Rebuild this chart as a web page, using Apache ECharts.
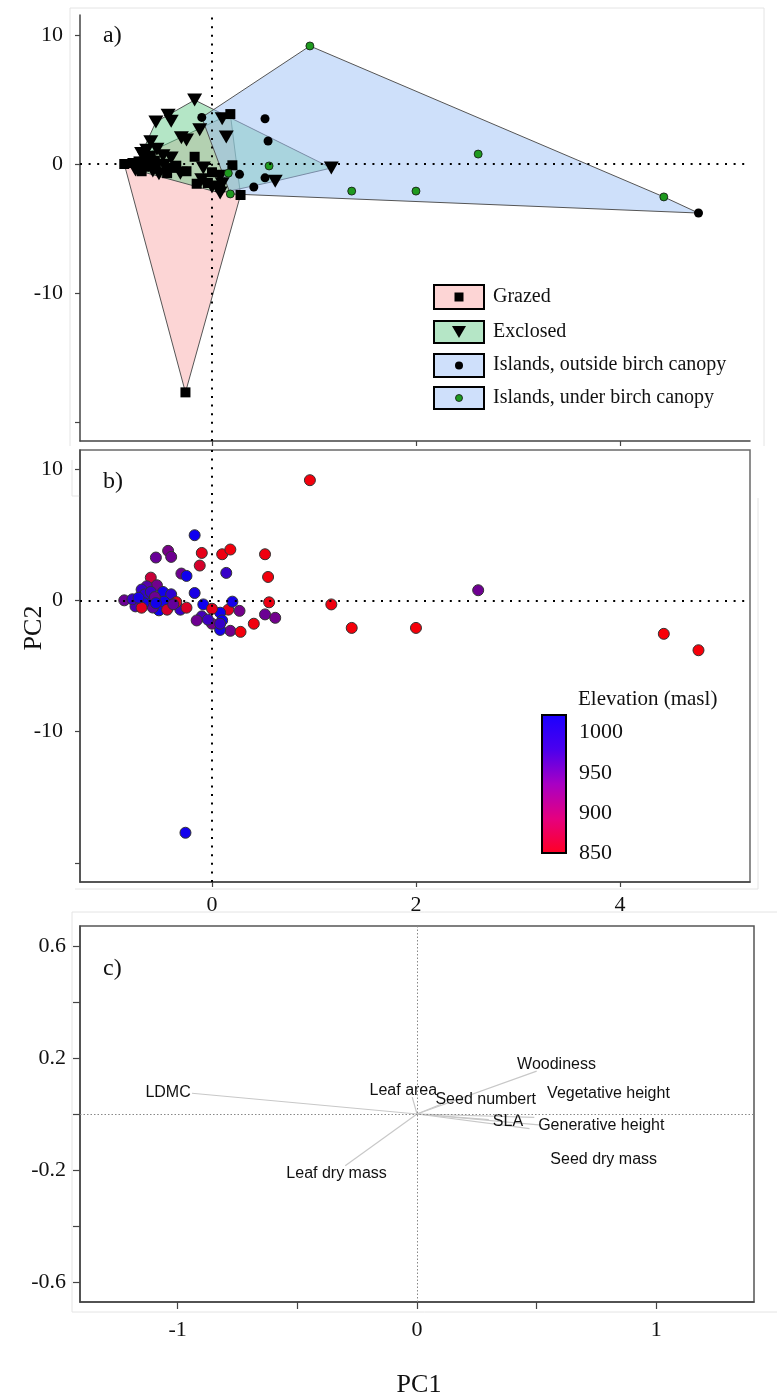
<!DOCTYPE html>
<html>
<head>
<meta charset="utf-8">
<script src="https://cdn.jsdelivr.net/npm/echarts@6/dist/echarts.min.js"></script>
<style>
  html, body { margin: 0; padding: 0; background: #ffffff; }
  #chart { width: 777px; height: 1398px; }
</style>
</head>
<body>
<div id="chart"></div>
<script>
// PCA site scores (PC1, PC2), treatment group and elevation (m a.s.l.) of each plot
const pc1 = [
  0.96, 2.61, 2.00, 4.43, 1.37, 0.56, 0.18, 0.16,
  -0.10, 0.52, 0.55, 0.27, 0.52, 0.41, 4.77,
  -0.17, -0.55, -0.43, -0.40, -0.12, -0.30, -0.25, 0.10, 0.14, 1.17, 0.62, -0.60,
  -0.54, -0.64, -0.69, -0.48, -0.40, -0.62, -0.52, -0.42, -0.31, -0.47, -0.58, -0.66,
  -0.75, -0.085, 0.08, -0.10, 0.00, 0.10, 0.08,
  0.18, -0.17, 0.20, 0.28, -0.86, -0.26, -0.78, -0.60, -0.56, -0.67, -0.55, -0.69,
  -0.44, -0.35, -0.25, -0.72, -0.38, 0.00, -0.15, -0.04, 0.08
];
const pc2 = [
  9.15, 0.77, -2.10, -2.55, -2.10, -0.15, -2.32, -0.71,
  3.61, 3.51, 1.78, -0.80, -1.07, -1.78, -3.80,
  4.96, 3.26, 3.77, 3.31, 2.65, 2.04, 1.86, 3.51, 2.09, -0.31, -1.33, 1.73,
  1.15, 1.07, 0.82, 0.64, 0.46, -0.13, -0.76, -0.46, -0.71, -0.10, -0.55, 0.45,
  -0.46, -0.31, -0.94, -1.22, -1.78, -1.53, -2.25,
  3.87, 0.56, -0.10, -2.40, 0.00, -17.7, 0.08, 0.64, 0.25, -0.21, -0.21, -0.56,
  -0.71, -0.13, -0.56, 0.20, -0.30, -0.64, -1.53, -1.47, -1.78
];
const treatment = [
  'U', 'U', 'U', 'U', 'U', 'U', 'U', 'U',
  'O', 'O', 'O', 'O', 'O', 'O', 'O',
  'E', 'E', 'E', 'E', 'E', 'E', 'E', 'E', 'E', 'E', 'E', 'E',
  'E', 'E', 'E', 'E', 'E', 'E', 'E', 'E', 'E', 'E', 'E', 'E',
  'E', 'E', 'E', 'E', 'E', 'E', 'E',
  'G', 'G', 'G', 'G', 'G', 'G', 'G', 'G', 'G', 'G', 'G', 'G',
  'G', 'G', 'G', 'G', 'G', 'G', 'G', 'G', 'G'
];
const elevation = [
  858, 948, 856, 855, 857, 862, 946, 868,
  866, 860, 858, 944, 950, 860, 856,
  1012, 952, 942, 948, 878, 948, 1012, 862, 985, 860, 945, 888,
  945, 965, 985, 1010, 990, 1000, 1012, 990, 985, 1010, 960, 990,
  975, 1012, 1010, 975, 945, 1012, 1008,
  858, 1005, 1008, 858, 950, 1010, 985, 985, 950, 1010, 1010, 870,
  880, 870, 875, 1005, 955, 868, 948, 980, 985
];

// Treatment groups
const groupNames = ['Grazed', 'Exclosed', 'Islands, outside birch canopy', 'Islands, under birch canopy'];

// Elevation colour scale
const elevMin = 850;
const elevMax = 1022;
const elevTicks = [850, 900, 950, 1000];

// Trait loadings (arrow tips) and label anchors for the biplot
const traitNames = ['LDMC', 'Leaf area', 'Seed numbert', 'Woodiness', 'Vegetative height',
                    'SLA', 'Generative height', 'Seed dry mass', 'Leaf dry mass'];
const loadPC1 = [-0.94, -0.02, 0.10, 0.50, 0.49, 0.30, 0.52, 0.47, -0.30];
const loadPC2 = [0.074, 0.060, 0.035, 0.153, -0.012, -0.020, -0.040, -0.052, -0.185];
const labelPC1 = [-1.04, -0.057, 0.287, 0.583, 0.80, 0.38, 0.77, 0.78, -0.336];
const labelPC2 = [0.077, 0.085, 0.051, 0.178, 0.074, -0.028, -0.040, -0.162, -0.213];

// Axis ticks
const scoreXTicks = [0, 2, 4];
const scoreYTicks = [-20, -10, 0, 10];
const scoreYLabels = [-10, 0, 10];
const loadXTicks = [-1, -0.5, 0, 0.5, 1];
const loadXLabels = [-1, 0, 1];
const loadYTicks = [-0.6, -0.4, -0.2, 0, 0.2, 0.4, 0.6];
const loadYLabels = [-0.6, -0.2, 0.2, 0.6];

// ---------------------------------------------------------------
const SERIF = '"Liberation Serif", "Times New Roman", serif';
const SANS = '"Liberation Sans", Arial, sans-serif';

function pointsOf(codes) {
  const out = [];
  for (let i = 0; i < pc1.length; i++) {
    if (codes.indexOf(treatment[i]) >= 0) out.push([pc1[i], pc2[i], elevation[i]]);
  }
  return out;
}

// Convex hull (monotone chain) in data space
function convexHull(pts) {
  const p = pts.map(d => [d[0], d[1]]).sort((a, b) => a[0] - b[0] || a[1] - b[1]);
  const cross = (o, a, b) => (a[0] - o[0]) * (b[1] - o[1]) - (a[1] - o[1]) * (b[0] - o[0]);
  const lower = [];
  for (const q of p) {
    while (lower.length >= 2 && cross(lower[lower.length - 2], lower[lower.length - 1], q) <= 0) lower.pop();
    lower.push(q);
  }
  const upper = [];
  for (let i = p.length - 1; i >= 0; i--) {
    const q = p[i];
    while (upper.length >= 2 && cross(upper[upper.length - 2], upper[upper.length - 1], q) <= 0) upper.pop();
    upper.push(q);
  }
  upper.pop(); lower.pop();
  return lower.concat(upper);
}

function hullSeries(codes, fill) {
  const hull = convexHull(pointsOf(codes));
  return {
    type: 'custom',
    xAxisIndex: 0, yAxisIndex: 0,
    z: 1, silent: true,
    data: hull,
    renderItem: function (params, api) {
      if (params.dataIndex !== 0) return null;
      const pts = hull.map(v => api.coord(v));
      return {
        type: 'polygon',
        shape: { points: pts },
        style: { fill: fill, stroke: '#555555', lineWidth: 1 }
      };
    }
  };
}

const dotLine = { type: [2, 6.6], color: '#000000', width: 2, cap: 'butt' };
const zeroLines = function (xi, style) {
  return {
    type: 'scatter', xAxisIndex: xi, yAxisIndex: xi, data: [], z: 2, silent: true,
    markLine: {
      symbol: 'none', silent: true, animation: false,
      label: { show: false },
      lineStyle: style,
      data: [{ xAxis: 0 }, { yAxis: 0 }]
    }
  };
};

function valueAxis(grid, min, max, ticks, labels, opts) {
  const ax = {
    type: 'value', gridIndex: grid, min: min, max: max, scale: false,
    splitLine: { show: false },
    axisLine: { show: true, onZero: false, lineStyle: { color: '#444444', width: 1.5 } },
    axisTick: { show: true, inside: false, length: 5, customValues: ticks,
                lineStyle: { color: '#444444', width: 1.2 } },
    axisLabel: { show: labels.length > 0, customValues: labels, margin: 14,
                 fontFamily: SERIF, fontSize: 22, color: '#111111',
                 formatter: v => String(v) }
  };
  if (opts) {
    if (opts.tickLength) ax.axisTick.length = opts.tickLength;
    if (opts.margin) ax.axisLabel.margin = opts.margin;
  }
  return ax;
}

// colours used for the plot symbols (linear red to blue) and for the key bar
const pointColors = ['#ff0000', '#0000ff'];
const barColors = ['#ff0022', '#e6007e', '#a800c4', '#4a00ee', '#1a00ff'];

const faint = '#e4e4e4';
function faintLine(x1, y1, x2, y2) {
  return { type: 'line', silent: true, z: 0, shape: { x1, y1, x2, y2 }, style: { stroke: faint, lineWidth: 1 } };
}

const option = {
  backgroundColor: '#ffffff',
  animation: false,
  grid: [
    { left: 80, top: 15, width: 670, height: 426, show: false },
    { left: 80, top: 450, width: 670, height: 432, show: true, borderColor: '#6a6a6a', borderWidth: 1.5, backgroundColor: 'transparent' },
    { left: 80, top: 926, width: 674, height: 376, show: true, borderColor: '#555555', borderWidth: 1.5, backgroundColor: 'transparent' },
    { left: 542, top: 715, width: 24, height: 138, show: false }
  ],
  xAxis: [
    valueAxis(0, -1.294, 5.275, scoreXTicks, []),
    valueAxis(1, -1.294, 5.275, scoreXTicks, scoreXTicks, { margin: 12 }),
    valueAxis(2, -1.408, 1.408, loadXTicks, loadXLabels, { tickLength: 7, margin: 17 }),
    { type: 'value', gridIndex: 3, min: 0, max: 1, show: false }
  ],
  yAxis: [
    valueAxis(0, -21.47, 11.55, scoreYTicks, scoreYLabels, { margin: 17 }),
    valueAxis(1, -21.45, 11.45, scoreYTicks, scoreYLabels, { margin: 17 }),
    valueAxis(2, -0.671, 0.671, loadYTicks, loadYLabels, { tickLength: 7, margin: 14 }),
    {
      type: 'value', gridIndex: 3, min: elevMin, max: elevMax, position: 'right',
      splitLine: { show: false }, axisLine: { show: false }, axisTick: { show: false },
      axisLabel: { customValues: elevTicks, margin: 13, fontFamily: SERIF, fontSize: 22, color: '#111111',
                   formatter: v => String(v) }
    }
  ],
  visualMap: [{
    type: 'continuous', show: false, seriesIndex: 8, dimension: 2,
    min: elevMin, max: elevMax,
    inRange: { color: pointColors }
  }],
  series: [
    // a) convex hulls of the treatment groups
    hullSeries(['G'], 'rgba(250,172,172,0.5)'),
    hullSeries(['E'], 'rgba(106,206,142,0.5)'),
    hullSeries(['O', 'U'], 'rgba(157,193,245,0.5)'),
    zeroLines(0, dotLine),
    // a) plots by treatment
    { type: 'scatter', name: groupNames[0], xAxisIndex: 0, yAxisIndex: 0, z: 3,
      data: pointsOf(['G']), symbol: 'rect', symbolSize: 10,
      itemStyle: { color: '#000000', opacity: 1 } },
    { type: 'scatter', name: groupNames[1], xAxisIndex: 0, yAxisIndex: 0, z: 3,
      data: pointsOf(['E']), symbol: 'triangle', symbolRotate: 180, symbolSize: [15, 13],
      itemStyle: { color: '#000000', opacity: 1 } },
    { type: 'scatter', name: groupNames[2], xAxisIndex: 0, yAxisIndex: 0, z: 3,
      data: pointsOf(['O']), symbol: 'circle', symbolSize: 9,
      itemStyle: { color: '#000000', opacity: 1 } },
    { type: 'scatter', name: groupNames[3], xAxisIndex: 0, yAxisIndex: 0, z: 3,
      data: pointsOf(['U']), symbol: 'circle', symbolSize: 8,
      itemStyle: { color: '#1f9a1f', borderColor: '#111111', borderWidth: 0.8, opacity: 1 } },
    // b) plots coloured by elevation
    { type: 'scatter', xAxisIndex: 1, yAxisIndex: 1, z: 3,
      data: pc1.map((x, i) => [x, pc2[i], elevation[i]]),
      symbol: 'circle', symbolSize: 11,
      itemStyle: { borderColor: '#333333', borderWidth: 1, opacity: 1 } },
    zeroLines(1, dotLine),
    // c) trait loadings
    zeroLines(2, { type: [1.5, 2], color: '#888888', width: 1 }),
    { type: 'lines', coordinateSystem: 'cartesian2d', xAxisIndex: 2, yAxisIndex: 2, z: 3, silent: true,
      data: traitNames.map((n, i) => ({ coords: [[0, 0], [loadPC1[i], loadPC2[i]]] })),
      lineStyle: { color: '#c8c8c8', width: 1.2, opacity: 1 } },
    { type: 'scatter', xAxisIndex: 2, yAxisIndex: 2, z: 4, silent: true,
      data: traitNames.map((n, i) => ({ name: n, value: [labelPC1[i], labelPC2[i]] })),
      symbol: 'circle', symbolSize: 0, itemStyle: { color: '#111111', opacity: 1 },
      label: { show: true, position: 'inside', formatter: p => p.name, opacity: 1,
               textBorderWidth: 0, fontFamily: SANS, fontSize: 16, color: '#111111' } },
    // elevation colour bar
    { type: 'custom', xAxisIndex: 3, yAxisIndex: 3, silent: true, z: 3,
      data: [[0, elevMin]],
      renderItem: function (params, api) {
        const tl = api.coord([0, elevMax]);
        const br = api.coord([1, elevMin]);
        return {
          type: 'rect',
          shape: { x: tl[0], y: tl[1], width: br[0] - tl[0], height: br[1] - tl[1] },
          style: {
            fill: new echarts.graphic.LinearGradient(0, 1, 0, 0, barColors.map((c, k) => ({ offset: k / (barColors.length - 1), color: c }))),
            stroke: '#000000', lineWidth: 2
          }
        };
      } }
  ],
  graphic: [
    faintLine(70, 8, 764, 8), faintLine(764, 8, 764, 446), faintLine(70, 8, 70, 446),
    faintLine(72, 460, 72, 496), faintLine(72, 496, 80, 496),
    faintLine(758, 498, 758, 889), faintLine(75, 889, 758, 889),
    faintLine(72, 912, 777, 912), faintLine(72, 912, 72, 1312), faintLine(72, 1312, 777, 1312),
    { type: 'text', left: 103, top: 24, style: { text: 'a)', font: '24px ' + SERIF, fill: '#111' } },
    { type: 'text', left: 103, top: 470, style: { text: 'b)', font: '24px ' + SERIF, fill: '#111' } },
    { type: 'text', left: 103, top: 957, style: { text: 'c)', font: '24px ' + SERIF, fill: '#111' } },
    { type: 'text', x: 34, y: 628, rotation: Math.PI / 2,
      style: { text: 'PC2', font: '26px ' + SERIF, fill: '#111', align: 'center', verticalAlign: 'middle' } },
    { type: 'text', x: 419, y: 1385,
      style: { text: 'PC1', font: '26px ' + SERIF, fill: '#111', align: 'center', verticalAlign: 'middle' } },
    { type: 'text', x: 578, y: 699,
      style: { text: 'Elevation (masl)', font: '21px ' + SERIF, fill: '#111', align: 'left', verticalAlign: 'middle' } },
    // key of panel a
    { type: 'group', left: 433, top: 284, children: [
      { type: 'rect', shape: { x: 0, y: 0, width: 50, height: 24 }, style: { fill: '#fdd5d5', stroke: '#000', lineWidth: 2 } },
      { type: 'rect', shape: { x: 20.5, y: 7.5, width: 9, height: 9 }, style: { fill: '#000' } },
      { type: 'text', x: 59, y: 12, style: { text: groupNames[0], font: '20px ' + SERIF, fill: '#111', verticalAlign: 'middle' } },

      { type: 'rect', shape: { x: 0, y: 36, width: 50, height: 22 }, style: { fill: '#b5e6c6', stroke: '#000', lineWidth: 2 } },
      { type: 'polygon', shape: { points: [[18, 41], [32, 41], [25, 53]] }, style: { fill: '#000' } },
      { type: 'text', x: 59, y: 47, style: { text: groupNames[1], font: '20px ' + SERIF, fill: '#111', verticalAlign: 'middle' } },

      { type: 'rect', shape: { x: 0, y: 69, width: 50, height: 23 }, style: { fill: '#cfe0fb', stroke: '#000', lineWidth: 2 } },
      { type: 'circle', shape: { cx: 25, cy: 80.5, r: 4 }, style: { fill: '#000' } },
      { type: 'text', x: 59, y: 80, style: { text: groupNames[2], font: '20px ' + SERIF, fill: '#111', verticalAlign: 'middle' } },

      { type: 'rect', shape: { x: 0, y: 102, width: 50, height: 22 }, style: { fill: '#cfe0fb', stroke: '#000', lineWidth: 2 } },
      { type: 'circle', shape: { cx: 25, cy: 113, r: 3.5 }, style: { fill: '#1f9a1f', stroke: '#111', lineWidth: 0.8 } },
      { type: 'text', x: 59, y: 113, style: { text: groupNames[3], font: '20px ' + SERIF, fill: '#111', verticalAlign: 'middle' } }
    ] }
  ]
};

const chart = echarts.init(document.getElementById('chart'), null, { renderer: 'canvas' });
chart.setOption(option);
</script>
</body>
</html>
